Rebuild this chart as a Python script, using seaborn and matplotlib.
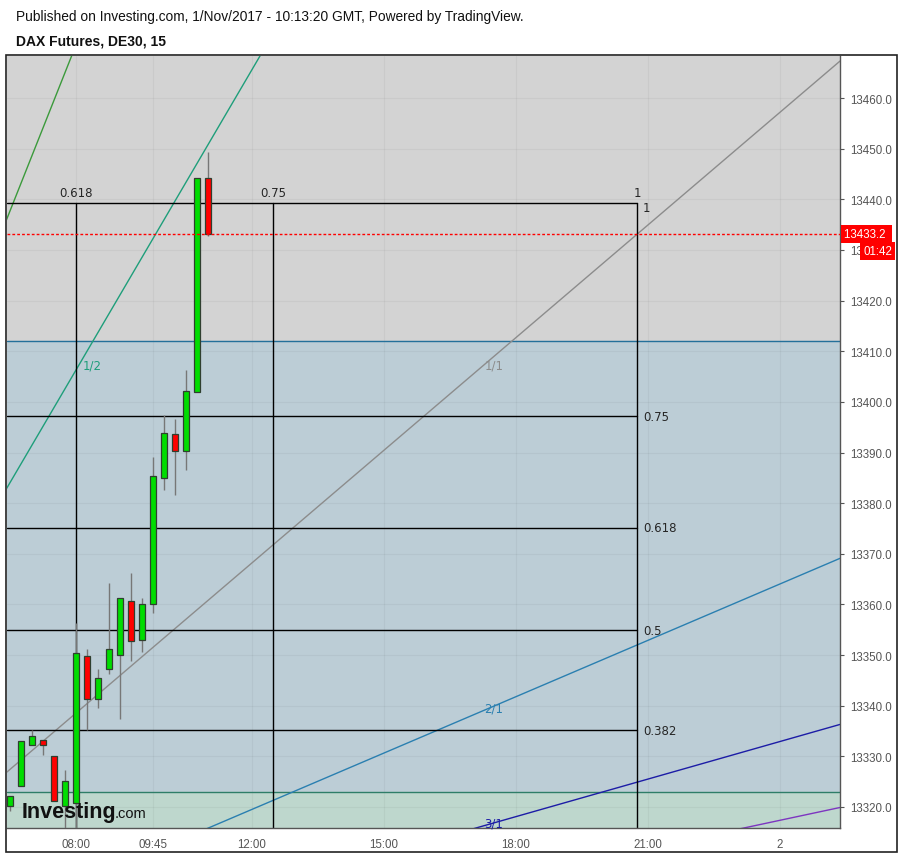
import numpy as np
import pandas as pd
import matplotlib
matplotlib.use("Agg")
import matplotlib.pyplot as plt
from matplotlib.patches import Rectangle
import seaborn as sns

sns.set_style("white")
plt.rcParams['font.family'] = ['Liberation Sans', 'DejaVu Sans']

# ---------------- data ----------------
bar_times = ["06:30", "06:45", "07:00", "07:15", "07:30", "07:45", "08:00", "08:15",
             "08:30", "08:45", "09:00", "09:15", "09:30", "09:45", "10:00", "10:15",
             "10:30", "10:45", "11:00"]
opens = [13320.1, 13324.1, 13332.2, 13333.2, 13330.1, 13320.1, 13320.8, 13349.9, 13341.3,
         13347.2, 13350.1, 13360.6, 13352.9, 13360.0, 13384.9, 13393.6, 13390.2, 13401.9, 13444.3]
closes = [13322.1, 13333.1, 13334.1, 13332.2, 13321.1, 13325.2, 13350.5, 13341.3, 13345.4,
          13351.1, 13361.2, 13352.7, 13360.0, 13385.3, 13393.8, 13390.2, 13402.2, 13444.3, 13433.2]
highs = [13322.1, 13333.1, 13335.3, 13333.2, 13330.1, 13327.4, 13356.3, 13351.2, 13347.2,
         13364.2, 13361.2, 13366.2, 13361.3, 13389.2, 13397.4, 13396.6, 13406.3, 13444.3, 13449.4]
lows = [13319.3, 13324.1, 13332.2, 13330.3, 13321.1, 13314.0, 13314.0, 13335.3, 13339.5,
        13346.2, 13337.3, 13348.9, 13350.7, 13358.4, 13382.6, 13381.7, 13386.6, 13401.9, 13432.8]
last_price = 13433.2

# fib retracement (price levels)
fib_levels = ["1", "0.75", "0.618", "0.5", "0.382"]
fib_prices = [13439.3, 13397.2, 13375.1, 13354.9, 13335.2]
fib_end_hour = 20.75

# fib time zones
time_levels = ["0.618", "0.75", "1"]
time_hours = [8.0, 12.477, 20.75]

# gann fan: origin and value at right edge of the chart
fan_origin = (-1.136, 13270.8)
fan_names = ["1/3", "1/2", "1/1", "2/1", "3/1", "4/1"]
fan_end_values = [13850.0, 13663.8, 13467.3, 13369.1, 13336.3, 13319.9]
fan_colors = ["#3b9a3b", "#1e9e7a", "#8c8c8c", "#2a7fb0", "#1c1ca6", "#7d35c0"]
fan_label_pos = {"1/2": (8.36, 13407.3), "1/1": (17.5, 13407.3),
                 "2/1": (17.5, 13339.5), "3/1": (17.5, 13316.8)}

# background zones
zone_upper = 13412.0
zone_lower = 13323.0

x_ticks = [8.0, 9.75, 12.0, 15.0, 18.0, 21.0, 24.0]
x_labels = ["08:00", "09:45", "12:00", "15:00", "18:00", "21:00", "2"]
y_ticks = np.arange(13320, 13461, 10)

# ---------------- figure ----------------
fig = plt.figure(figsize=(8.98, 8.54), dpi=100)
ax = fig.add_axes([7 / 898, 25 / 854, 833 / 898, 772 / 854])
x_min, x_max = 6.432, 25.364
y_min, y_max = 13315.85, 13468.3
ax.set_xlim(x_min, x_max)
ax.set_ylim(y_min, y_max)

# zones
ax.axhspan(zone_upper, y_max, color="#d3d3d3", zorder=0)
ax.axhspan(zone_lower, zone_upper, color="#bccdd6", zorder=0)
ax.axhspan(y_min, zone_lower, color="#bed7cd", zorder=0)
ax.axhline(zone_upper, color="#24709a", lw=1.0, zorder=1)
ax.axhline(zone_lower, color="#2e7d68", lw=1.0, zorder=1)

# grid
for yt in y_ticks:
    ax.axhline(yt, color="#000000", alpha=0.04, lw=0.8, zorder=0.5)
for xt in x_ticks:
    ax.axvline(xt, color="#000000", alpha=0.04, lw=0.8, zorder=0.5)

# gann fan lines
fan_df = pd.DataFrame({
    "hour": [fan_origin[0], x_max] * len(fan_names),
    "value": sum([[fan_origin[1], v] for v in fan_end_values], []),
    "line": sum([[n, n] for n in fan_names], []),
})
sns.lineplot(data=fan_df, x="hour", y="value", hue="line", palette=dict(zip(fan_names, fan_colors)),
             legend=False, lw=1.0, ax=ax, zorder=2)
for name, (hx, hy) in fan_label_pos.items():
    ax.text(hx, hy, name, color=fan_colors[fan_names.index(name)], fontsize=8.5,
            ha="center", va="center", family="DejaVu Sans", zorder=3)

# fib retracement lines
for lev, price in zip(fib_levels, fib_prices):
    ax.plot([x_min, fib_end_hour], [price, price], color="black", lw=1.0, zorder=2)
    ax.text(fib_end_hour + 0.14, price + (0.4 if lev == "1" else 0), lev, fontsize=8.5, ha="left",
            va="top" if lev == "1" else "center", family="DejaVu Sans", zorder=3)

# fib time lines
for lev, h in zip(time_levels, time_hours):
    ax.plot([h, h], [y_min, fib_prices[0]], color="black", lw=1.0, zorder=2)
    ax.text(h, fib_prices[0] + 0.8, lev, fontsize=8.5, ha="center", va="bottom",
            family="DejaVu Sans", zorder=3)

# candles
hours = [int(t[:2]) + int(t[3:]) / 60 for t in bar_times]
width = 0.15
for h, o, c, hi, lo in zip(hours, opens, closes, highs, lows):
    ax.vlines(h, lo, hi, color="#777777", lw=1.0, zorder=4)
    col = "#00dd00" if c >= o else "#ff0000"
    ax.add_patch(Rectangle((h - width / 2, min(o, c)), width, max(abs(c - o), 0.3),
                           facecolor=col, edgecolor="#2f3f2f", lw=0.9, zorder=5))

# last price
ax.axhline(last_price, color="#ff0000", lw=1.0, ls=(0, (2, 1.5)), zorder=6)

# axes styling
ax.yaxis.tick_right()
ax.set_yticks(y_ticks)
ax.set_yticklabels([f"{v:.1f}" for v in y_ticks])
ax.set_xticks(x_ticks)
ax.set_xticklabels(x_labels)
ax.tick_params(axis="both", colors="#555555", labelsize=8.3, length=3, width=0.8)
ax.tick_params(axis="y", pad=4)
ax.tick_params(axis="x", pad=4)
for s in ["top", "left"]:
    ax.spines[s].set_visible(False)
for s in ["right", "bottom"]:
    ax.spines[s].set_color("#555555")
    ax.spines[s].set_linewidth(1.0)
ax.set_xlabel("")
ax.set_ylabel("")

# price labels on the axis
ax.text(1.005, last_price, "13433.2 ", transform=ax.get_yaxis_transform(), color="white",
        fontsize=8.3, ha="left", va="center", zorder=10, clip_on=False,
        bbox=dict(boxstyle="square,pad=0.25", fc="#ff0000", ec="none"))
ax.text(1.0625, last_price - 3.4, "01:42", transform=ax.get_yaxis_transform(), color="white",
        fontsize=8.3, ha="right", va="center", zorder=10, clip_on=False,
        bbox=dict(boxstyle="square,pad=0.25", fc="#ff0000", ec="none"))

# logo
ax.text(0.018, 0.008, "Investing", transform=ax.transAxes, fontsize=15.5, fontweight="bold",
        color="#111111", ha="left", va="bottom", zorder=7)
ax.text(0.129, 0.010, ".com", transform=ax.transAxes, fontsize=10.5, color="#111111",
        ha="left", va="bottom", zorder=7)

# frame and titles
fig.patches.append(Rectangle((6 / 898, 1 / 854), 891 / 898, 797 / 854, transform=fig.transFigure,
                             fill=False, ec="#222222", lw=1.2))
fig.text(16 / 898, 1 - 17 / 854, "Published on Investing.com, 1/Nov/2017 - 10:13:20 GMT, Powered by TradingView.",
         fontsize=9.9, color="#111111", ha="left", va="center")
fig.text(16 / 898, 1 - 41 / 854, "DAX Futures, DE30, 15", fontsize=10, fontweight="bold",
         color="#111111", ha="left", va="center")

fig.savefig("out.png", dpi=100)
